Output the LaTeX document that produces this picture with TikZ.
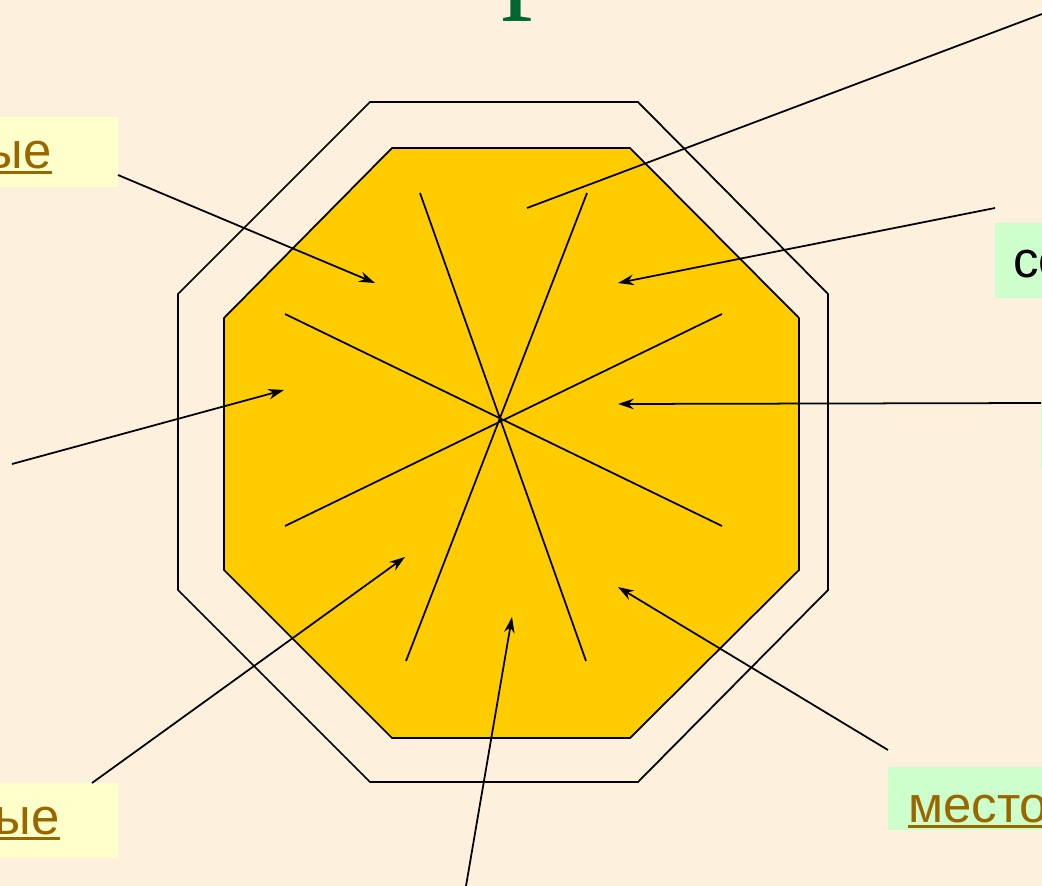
\documentclass[tikz,border=0pt]{standalone}
\usepackage{fontspec}
\setmainfont{Liberation Sans}
\newfontfamily\titlefont{Liberation Serif}
\usetikzlibrary{arrows.meta}
\definecolor{bgcream}{HTML}{FDF0DC}
\definecolor{octfill}{HTML}{FFCC00}
\definecolor{lblyellow}{HTML}{FFFFCC}
\definecolor{lblgreen}{HTML}{CCFFCC}
\definecolor{linkbrown}{HTML}{996600}
\definecolor{titlegreen}{HTML}{006633}
\newcommand\linkul[1]{\setbox0\hbox{#1}\rlap{\rule[-3.2pt]{\wd0}{1.6pt}}\box0}
\tikzset{
  lblbox/.style={draw=none, inner sep=0pt},
  lbltext/.style={inner sep=0pt, font=\fontsize{29}{34}\selectfont},
  spoke/.style={line width=1pt},
  ptr/.style={line width=1pt, -{Stealth[length=9pt,width=6pt]}}
}
\begin{document}
\begin{tikzpicture}[x=0.02cm, y=-0.02cm]
\useasboundingbox (0,0) rectangle (1042,886);
\fill[bgcream] (0,0) rectangle (1042,886);
% title, mostly above the frame
\node[inner sep=0pt, anchor=south, text=titlegreen, font=\titlefont\fontsize{72}{80}\selectfont] (title) at (533,22) {р};
% label boxes
\fill[lblyellow] (-60,117) rectangle (118,187); \fill[lblyellow] (-60,783) rectangle (118,858);
\fill[lblgreen] (995,223) rectangle (1100,298); \fill[lblgreen] (888,767) rectangle (1100,830);
\fill[lblgreen] (1041,404) rectangle (1100,470);
\node[lbltext, anchor=base east, text=linkbrown] (tltxt) at (52,168) {\linkul{ые}};
\node[lbltext, anchor=base east, text=linkbrown] (bltxt) at (60,834) {\linkul{ые}};
\node[lbltext, anchor=base west] (setxt) at (1013,277) {се};
\node[lbltext, anchor=base west, text=linkbrown] (mtxt) at (908,822) {\linkul{место}};
% octagons
\draw[line width=1pt] (370,102) -- (638,102) -- (828,294) -- (828,590) -- (638,782) -- (370,782) -- (178,590) -- (178,294) -- cycle;
\draw[line width=1pt, fill=octfill] (392,148) -- (630,148) -- (799,318) -- (799,570) -- (630,738) -- (392,738) -- (224,570) -- (224,318) -- cycle;
% spokes
\draw[spoke] (420,193) -- (586,661); \draw[spoke] (587,193) -- (406,661);
\draw[spoke] (285,314) -- (722,526); \draw[spoke] (722,314) -- (285,526);
% connector ends
\coordinate (s1) at (1042,14); \coordinate (t1) at (527,208);
\coordinate (s2) at (995,208); \coordinate (t2) at (618,283);
\coordinate (s3) at (1041,403); \coordinate (t3) at (618,404);
\coordinate (s4) at (888,750); \coordinate (t4) at (618,587);
\coordinate (s5) at (466,886); \coordinate (t5) at (512,617);
\coordinate (s6) at (92,783); \coordinate (t6) at (405,557);
\coordinate (s7) at (12,464); \coordinate (t7) at (284,390);
\coordinate (s8) at (118,175); \coordinate (t8) at (375,283);
\draw[line width=1pt] (s1) -- (t1);
\draw[ptr] (s2) -- (t2); \draw[ptr] (s3) -- (t3); \draw[ptr] (s4) -- (t4);
\draw[ptr] (s5) -- (t5); \draw[ptr] (s6) -- (t6); \draw[ptr] (s7) -- (t7);
\draw[ptr] (s8) -- (t8);
\end{tikzpicture}
\end{document}
